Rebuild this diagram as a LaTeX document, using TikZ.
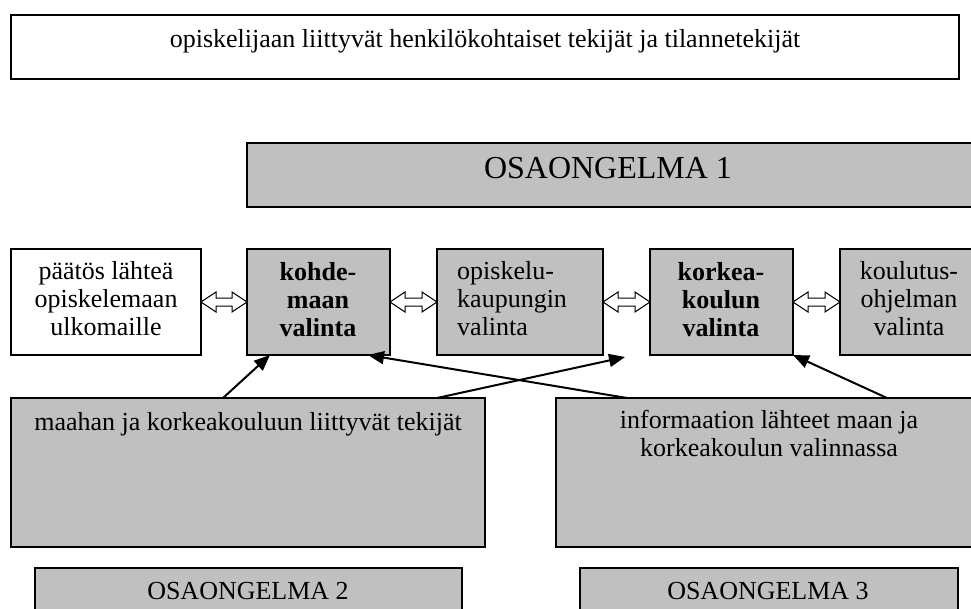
\documentclass[tikz,border=0pt]{standalone}
\usepackage{fontspec}
\setmainfont{Liberation Serif}
\usetikzlibrary{arrows.meta,calc}
\definecolor{boxgray}{RGB}{192,192,192}

% outlined two-headed block arrow between two points at the same height
\newcommand{\blockarrow}[2]{%
  \draw[dblarrow] (#1) -- ++(15,-10) -- ++(0,6) -- ($(#2)+(-15,-4)$) -- ++(0,-6)
    -- (#2) -- ++(-15,10) -- ++(0,-6) -- ($(#1)+(15,4)$) -- ++(0,6) -- cycle;}

\begin{document}
\begin{tikzpicture}[x=1pt,y=-1pt,
  box/.style={rectangle, draw=black, line width=1.8pt, inner sep=0pt, outer sep=0pt},
  whitebox/.style={box, fill=white},
  graybox/.style={box, fill=boxgray},
  lbl/.style={inner sep=0pt, anchor=base, align=center,
    font=\fontsize{26}{27.8}\selectfont},
  boldlbl/.style={lbl, font=\fontsize{26}{27.8}\selectfont\bfseries},
  biglbl/.style={inner sep=0pt, anchor=base, font=\fontsize{32}{36}\selectfont},
  dblarrow/.style={draw=black, fill=white, line width=1pt, line join=miter},
  arr/.style={draw=black, line width=2pt, -{Triangle[length=16pt,width=13pt]}},
]
\useasboundingbox (0,0) rectangle (971,608);
\clip (0,0) rectangle (971,608);

% personal and situational factors
\node[whitebox, minimum width=948, minimum height=64] (top) at (485,47) {};
\node[lbl] (toptxt) at (485,47) {opiskelijaan liittyvät henkilökohtaiset tekijät ja tilannetekijät};

% sub-problem 1
\node[graybox, minimum width=733, minimum height=64] (osa1) at (613.5,175) {};
\node[biglbl] (osa1txt) at (608,178) {OSAONGELMA 1};

% chain of decisions
\node[whitebox, minimum width=190, minimum height=106] (b1) at (106,302) {};
\node[graybox, minimum width=143, minimum height=106] (b2) at (318.5,302) {};
\node[graybox, minimum width=166, minimum height=106] (b3) at (520,302) {};
\node[graybox, minimum width=143, minimum height=106] (b4) at (721.5,302) {};
\node[graybox, minimum width=140, minimum height=106] (b5) at (910,302) {};

% (multi-line labels are placed by the baseline of their last line)
\node[lbl] (b1txt) at (106,335) {päätös lähteä\\opiskelemaan\\ulkomaille};
\node[boldlbl] (b2txt) at (318,336) {kohde-\\maan\\valinta};
\node[lbl, align=left, anchor=base west] (b3txt) at (457,335) {opiskelu-\\kaupungin\\valinta};
\node[boldlbl] (b4txt) at (721,336) {korkea-\\koulun\\valinta};
\node[lbl] (b5txt) at (909,335) {koulutus-\\ohjelman\\valinta};

\blockarrow{b1.east}{b2.west}
\blockarrow{b2.east}{b3.west}
\blockarrow{b3.east}{b4.west}
\blockarrow{b4.east}{b5.west}

% influencing factors
\node[graybox, minimum width=474, minimum height=149] (lb) at (248,472.5) {};
\node[graybox, minimum width=434, minimum height=149] (rb) at (773,472.5) {};
\node[lbl] (lbtxt) at (248,430) {maahan ja korkeakouluun liittyvät tekijät};
\node[lbl] (rbtxt) at (769,456) {informaation lähteet maan ja\\korkeakoulun valinnassa};

% sub-problems 2 and 3
\node[graybox, minimum width=427, minimum height=72] (osa2) at (248.5,604) {};
\node[graybox, minimum width=378, minimum height=72] (osa3) at (769,604) {};
\node[lbl] (osa2txt) at (248,599) {OSAONGELMA 2};
\node[lbl] (osa3txt) at (768,599) {OSAONGELMA 3};

% influences
\coordinate (gap) at ($(b3.south east)+(22,2)$);
\draw[arr] ($(lb.north west)+(212,0)$) -- ($(b2.south west)+(23,0)$);
\draw[arr] ($(lb.north west)+(426,0)$) -- (gap);
\draw[arr] ($(rb.north west)+(71,0)$) -- ($(b2.south east)+(-22,0)$);
\draw[arr] ($(rb.north west)+(331,0)$) -- (b4.south east);
\end{tikzpicture}
\end{document}
